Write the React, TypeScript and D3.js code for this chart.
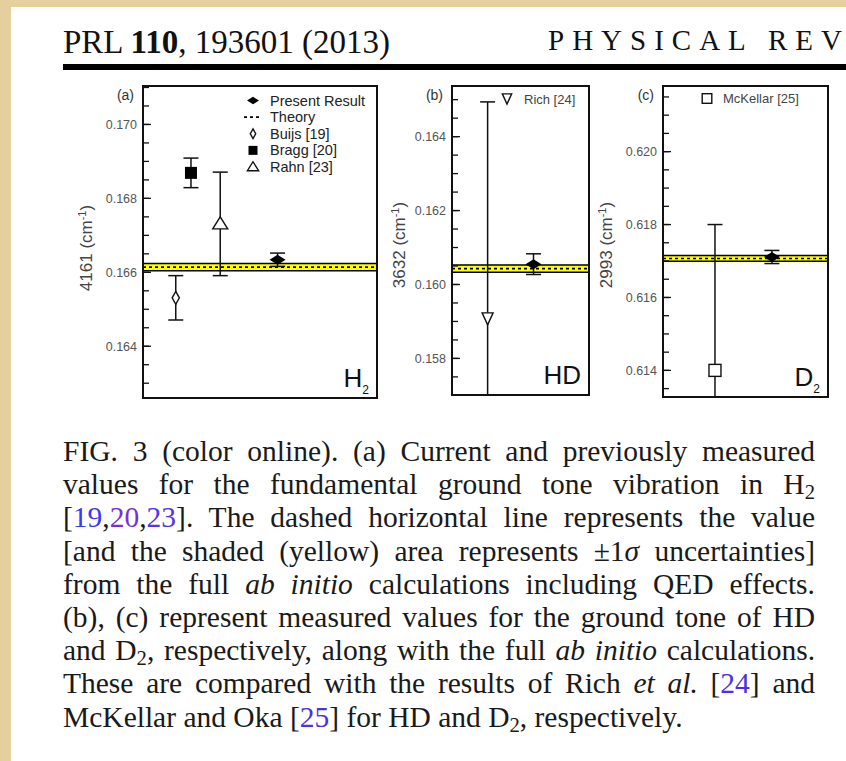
import React, { useEffect, useRef } from 'react';
import * as d3 from 'd3';

const W = 846;
const H = 761;

// (a) H2 ground tone, offset from 4161 cm-1
const h2Names = ['Buijs [19]', 'Bragg [20]', 'Rahn [23]', 'Present Result'];
const h2Kinds = ['diamondOpen', 'squareFilled', 'triangleOpen', 'present'];
const h2Pos = [1.4, 2.05, 3.3, 5.75];
const h2Values = [0.16531, 0.16869, 0.16731, 0.16634];
const h2Errors = [0.0006, 0.0004, 0.0014, 0.00018];
const h2Theory = [0.16614, 0.0001];

// (b) HD, offset from 3632 cm-1
const hdNames = ['Rich [24]', 'Present Result'];
const hdKinds = ['triangleDownOpen', 'present'];
const hdPos = [2.6, 5.95];
const hdValues = [0.15907, 0.16055];
const hdErrors = [0.00587, 0.00028];
const hdTheory = [0.16043, 0.0001];

// (c) D2, offset from 2993 cm-1
const d2Names = ['McKellar [25]', 'Present Result'];
const d2Kinds = ['squareOpen', 'present'];
const d2Pos = [3.15, 6.6];
const d2Values = [0.614, 0.61711];
const d2Errors = [0.004, 0.00018];
const d2Theory = [0.61707, 0.00008];

const h2Legend = ['Present Result', 'Theory', 'Buijs [19]', 'Bragg [20]', 'Rahn [23]'];
const h2LegendKinds = ['present', 'theory', 'diamondOpen', 'squareFilled', 'triangleOpen'];

const panels = [
  {
    key: 'a', tag: '(a)', offset: '4161', mol: 'H', left: 143, right: 377, top: 86, bottom: 398,
    domain: [0.1626, 0.17104], names: h2Names, kinds: h2Kinds, pos: h2Pos, values: h2Values,
    errors: h2Errors, theory: h2Theory, titleX: 86, titleY: 248,
  },
  {
    key: 'b', tag: '(b)', offset: '3632', mol: 'HD', left: 452, right: 589, top: 86, bottom: 395,
    domain: [0.15701, 0.16537], names: hdNames, kinds: hdKinds, pos: hdPos, values: hdValues,
    errors: hdErrors, theory: hdTheory, titleX: 399, titleY: 245,
  },
  {
    key: 'c', tag: '(c)', offset: '2993', mol: 'D', left: 663, right: 828, top: 86, bottom: 397,
    domain: [0.61327, 0.6218], names: d2Names, kinds: d2Kinds, pos: d2Pos, values: d2Values,
    errors: d2Errors, theory: d2Theory, titleX: 606, titleY: 245,
  },
];

type Seg = { t: string; it?: boolean; sub?: boolean; c?: string };
const LINK = '#4b30e6';
const captionLines: Seg[][] = [
  [{ t: 'FIG. 3 (color online). (a) Current and previously measured' }],
  [{ t: 'values for the fundamental ground tone vibration in H' }, { t: '2', sub: true }],
  [{ t: '[' }, { t: '19', c: '#3a3af2' }, { t: ',' }, { t: '20', c: '#7a2fd6' }, { t: ',' }, { t: '23', c: '#5536e2' }, { t: ']. The dashed horizontal line represents the value' }],
  [{ t: '[and the shaded (yellow) area represents \u00b11' }, { t: '\u03c3', it: true }, { t: ' uncertainties]' }],
  [{ t: 'from the full ' }, { t: 'ab initio', it: true }, { t: ' calculations including QED effects.' }],
  [{ t: '(b), (c) represent measured values for the ground tone of HD' }],
  [{ t: 'and D' }, { t: '2', sub: true }, { t: ', respectively, along with the full ' }, { t: 'ab initio', it: true }, { t: ' calculations.' }],
  [{ t: 'These are compared with the results of Rich ' }, { t: 'et al.', it: true }, { t: ' [' }, { t: '24', c: LINK }, { t: '] and' }],
  [{ t: 'McKellar and Oka [' }, { t: '25', c: LINK }, { t: '] for HD and D' }, { t: '2', sub: true }, { t: ', respectively.' }],
];

const SANS = 'Liberation Sans, Arial, sans-serif';
const SERIF = 'Liberation Serif, Times New Roman, serif';
const CAP_X = 63;
const CAP_W = 752;
const CAP_SIZE = 29.5;

function Marker({ kind, x, y, k = 1 }: { kind: string; x: number; y: number; k?: number }) {
  const sw = 1.4;
  if (kind === 'diamondOpen')
    return <path d={`M${x},${y - 6.5 * k}L${x + 3.6 * k},${y}L${x},${y + 6.5 * k}L${x - 3.6 * k},${y}Z`} fill="#fff" stroke="#111" strokeWidth={sw} />;
  if (kind === 'squareFilled')
    return <rect x={x - 6 * k} y={y - 6 * k} width={12 * k} height={12 * k} fill="#000" />;
  if (kind === 'squareOpen')
    return <rect x={x - 6 * k} y={y - 6 * k} width={12 * k} height={12 * k} fill="#fff" stroke="#111" strokeWidth={sw} />;
  if (kind === 'triangleOpen')
    return <path d={`M${x - 7.5 * k},${y + 5 * k}L${x + 7.5 * k},${y + 5 * k}L${x},${y - 7 * k}Z`} fill="#fff" stroke="#111" strokeWidth={sw} />;
  if (kind === 'triangleDownOpen')
    return <path d={`M${x - 5.5 * k},${y - 6 * k}L${x + 5.5 * k},${y - 6 * k}L${x},${y + 6 * k}Z`} fill="#fff" stroke="#111" strokeWidth={sw} />;
  if (kind === 'present')
    return <path d={`M${x - 8 * k},${y}L${x},${y - 5 * k}L${x + 8 * k},${y}L${x},${y + 5 * k}Z`} fill="#000" />;
  if (kind === 'theory')
    return <line x1={x - 9} x2={x + 9} y1={y} y2={y} stroke="#000" strokeWidth={1.6} strokeDasharray="3,3" />;
  return null;
}

function Panel({ p }: { p: (typeof panels)[number] }) {
  const y = d3.scaleLinear().domain(p.domain).range([p.bottom, p.top]);
  const x = d3.scaleLinear().domain([0, 10]).range([p.left, p.right]);
  const major = y.ticks(4);
  const minor = y.ticks(16);
  const fmt = d3.format('.3f');
  const [tv, te] = p.theory;
  const bandTop = y(tv + te);
  const bandBot = y(tv - te);
  const cap = 7.5;

  return (
    <g>
      <defs>
        <clipPath id={`clip-${p.key}`}>
          <rect x={p.left} y={p.top} width={p.right - p.left} height={p.bottom - p.top} />
        </clipPath>
      </defs>
      <rect x={p.left} y={p.top} width={p.right - p.left} height={p.bottom - p.top} fill="#fff" />
      <g clipPath={`url(#clip-${p.key})`}>
        <rect x={p.left} y={bandTop} width={p.right - p.left} height={bandBot - bandTop} fill="#ffff00" />
        <line x1={p.left} x2={p.right} y1={bandTop} y2={bandTop} stroke="#000" strokeWidth={1.5} />
        <line x1={p.left} x2={p.right} y1={bandBot} y2={bandBot} stroke="#000" strokeWidth={1.5} />
        <line x1={p.left} x2={p.right} y1={y(tv)} y2={y(tv)} stroke="#000" strokeWidth={1.6} strokeDasharray="3,3" />
        {p.values.map((v, i) => {
          const cx = x(p.pos[i]);
          const e = p.errors[i];
          return (
            <g key={p.names[i]}>
              <line x1={cx} x2={cx} y1={y(v + e)} y2={y(v - e)} stroke="#111" strokeWidth={1.5} />
              <line x1={cx - cap} x2={cx + cap} y1={y(v + e)} y2={y(v + e)} stroke="#111" strokeWidth={1.5} />
              <line x1={cx - cap} x2={cx + cap} y1={y(v - e)} y2={y(v - e)} stroke="#111" strokeWidth={1.5} />
              <Marker kind={p.kinds[i]} x={cx} y={y(v)} />
            </g>
          );
        })}
      </g>
      {minor.map((t) => (
        <line key={`m${t}`} x1={p.left} x2={p.left + 6} y1={y(t)} y2={y(t)} stroke="#111" strokeWidth={1.3} />
      ))}
      {major.map((t) => (
        <g key={`M${t}`}>
          <line x1={p.left} x2={p.left + 8} y1={y(t)} y2={y(t)} stroke="#111" strokeWidth={1.3} />
          <text x={p.left - 6} y={y(t)} dy="0.35em" textAnchor="end" fontFamily={SANS} fontSize={12.5} fill="#555">
            {fmt(t)}
          </text>
        </g>
      ))}
      <rect x={p.left} y={p.top} width={p.right - p.left} height={p.bottom - p.top} fill="none" stroke="#111" strokeWidth={2} />
      <text x={p.left - 9} y={100} textAnchor="end" fontFamily={SANS} fontSize={14} fill="#333">
        {p.tag}
      </text>
      <text
        transform={`translate(${p.titleX},${p.titleY}) rotate(-90)`}
        textAnchor="middle"
        dy="0.35em"
        fontFamily={SANS}
        fontSize={17}
        fill="#444"
      >
        {p.offset} (cm<tspan dy={-6} fontSize={11}>-1</tspan>
        <tspan dy={6}>)</tspan>
      </text>
      <text x={p.right - 8} y={p.bottom - 11} textAnchor="end" fontFamily={SANS} fontSize={26} fill="#111">
        {p.mol === 'HD' ? 'HD' : (
          <>
            {p.mol}
            <tspan dy={7} fontSize={12}>2</tspan>
          </>
        )}
      </text>
    </g>
  );
}

export default function App() {
  const capRef = useRef<SVGGElement>(null);

  useEffect(() => {
    const justify = () => {
      d3.select(capRef.current)
        .selectAll<SVGTextElement, unknown>('text.just')
        .each(function () {
          this.setAttribute('word-spacing', '0');
          const w = this.getComputedTextLength();
          const n = (this.textContent || '').trim().split(/\s+/).length - 1;
          if (n > 0) this.setAttribute('word-spacing', String((CAP_W - w) / n));
        });
    };
    justify();
    if (document.fonts) document.fonts.ready.then(justify);
  }, []);

  const legendY = d3.scaleLinear().domain([0, 4]).range([100.5, 167]);

  return (
    <svg width={W} height={H} style={{ position: 'absolute', left: 0, top: 0, display: 'block' }}>
      <rect width={W} height={H} fill="#e5cf9d" />
      <rect x={11} y={7} width={W - 11} height={H - 7} fill="#fff" />

      <text x={63} y={53} fontFamily={SERIF} fontSize={33} fill="#111">
        PRL <tspan fontWeight="bold">110</tspan>, 193601 (2013)
      </text>
      <text x={548} y={50} fontFamily={SERIF} fontSize={29} letterSpacing={8} fill="#111">
        PHYSICAL REV
      </text>
      <rect x={63} y={64} width={W - 63} height={6} fill="#000" />

      {panels.map((p) => (
        <Panel key={p.key} p={p} />
      ))}

      {h2Legend.map((name, i) => (
        <g key={name}>
          <Marker kind={h2LegendKinds[i]} x={253} y={legendY(i)} k={0.75} />
          <text x={270} y={legendY(i)} dy="0.35em" fontFamily={SANS} fontSize={14.5} fill="#222">
            {name}
          </text>
        </g>
      ))}
      <Marker kind="triangleDownOpen" x={507} y={99} k={0.85} />
      <text x={524} y={99} dy="0.35em" fontFamily={SANS} fontSize={13} fill="#444">
        {hdNames[0]}
      </text>
      <Marker kind="squareOpen" x={707} y={98.5} k={0.8} />
      <text x={723} y={98.5} dy="0.35em" fontFamily={SANS} fontSize={13} fill="#444">
        {d2Names[0]}
      </text>

      <g ref={capRef} fontFamily={SERIF} fontSize={CAP_SIZE} fill="#1a1a1a">
        {captionLines.map((segs, li) => (
          <text key={li} className={li < captionLines.length - 1 ? 'just' : ''} x={CAP_X} y={461 + li * 33.2}>
            {segs.map((s, si) => {
              const afterSub = si > 0 && segs[si - 1].sub;
              if (s.sub)
                return (
                  <tspan key={si} fontSize={CAP_SIZE * 0.7} dy={5}>
                    {s.t}
                  </tspan>
                );
              return (
                <tspan key={si} dy={afterSub ? -5 : undefined} fontStyle={s.it ? 'italic' : undefined} fill={s.c}>
                  {s.t}
                </tspan>
              );
            })}
          </text>
        ))}
      </g>
    </svg>
  );
}
